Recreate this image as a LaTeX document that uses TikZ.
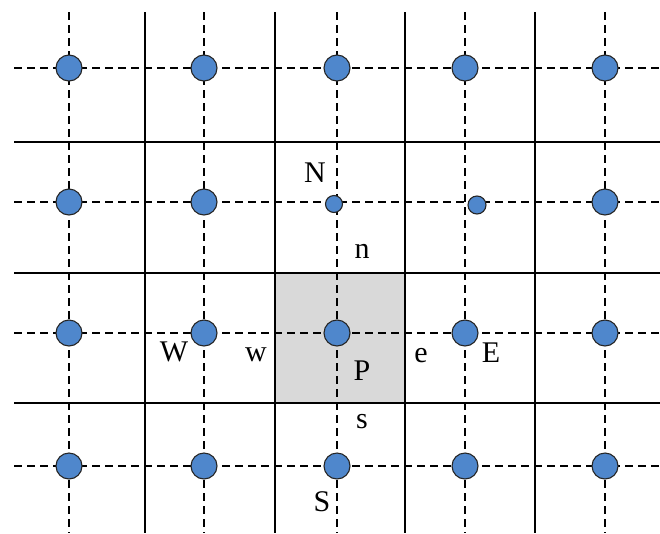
\documentclass[tikz,border=0pt]{standalone}
\usepackage{fontspec}
\setmainfont{Liberation Serif}
\definecolor{dotblue}{HTML}{4F87CC}
\definecolor{cellgray}{HTML}{D9D9D9}
\tikzset{
  x=1pt, y=-1pt,
  gridsolid/.style={line width=1.3pt, black},
  griddash/.style={line width=1.2pt, black, dash pattern=on 8pt off 5pt},
  bigdot/.style={circle, draw=black!85, line width=1.1pt, fill=dotblue, minimum size=26pt, inner sep=0pt},
  smalldot/.style={circle, draw=black!85, line width=1.1pt, fill=dotblue, minimum size=17pt, inner sep=0pt},
  lbl/.style={font=\fontsize{30}{32}\selectfont, anchor=base, inner sep=0pt},
}
\begin{document}
\begin{tikzpicture}
\useasboundingbox (0,0) rectangle (660,533);
% control volume
\fill[cellgray] (275,273) rectangle (405,403);
% dashed lines through nodes
\foreach \x in {69,204,337,465,605} \draw[griddash] (\x,12) -- (\x,533);
\foreach \y in {68,202,333,466} \draw[griddash] (14,\y) -- (660,\y);
% solid cell faces
\foreach \x in {145,275,405,535} \draw[gridsolid] (\x,12) -- (\x,533);
\foreach \y in {142,273,403} \draw[gridsolid] (14,\y) -- (660,\y);
% nodes
\foreach \x/\i in {69/1,204/2,337/3,465/4,605/5}{
  \node[bigdot] (r1c\i) at (\x,68) {};
  \node[bigdot] (r3c\i) at (\x,333) {};
  \node[bigdot] (r4c\i) at (\x,466) {};
}
\node[bigdot] (r2c1) at (69,202) {};
\node[bigdot] (r2c2) at (204,202) {};
\node[smalldot] (r2c3) at (334,204) {};
\node[smalldot, minimum size=18pt] (r2c4) at (477,205) {};
\node[bigdot] (r2c5) at (605,202) {};
% labels
\node[lbl] (lN) at (315,182) {N};
\node[lbl] (ln) at (362,258) {n};
\node[lbl] (lW) at (174,361) {W};
\node[lbl] (lw) at (256,361) {w};
\node[lbl] (lP) at (362,380) {P};
\node[lbl] (le) at (421,362) {e};
\node[lbl] (lE) at (491,362) {E};
\node[lbl] (ls) at (362,428) {s};
\node[lbl] (lS) at (322,511) {S};
\end{tikzpicture}
\end{document}
